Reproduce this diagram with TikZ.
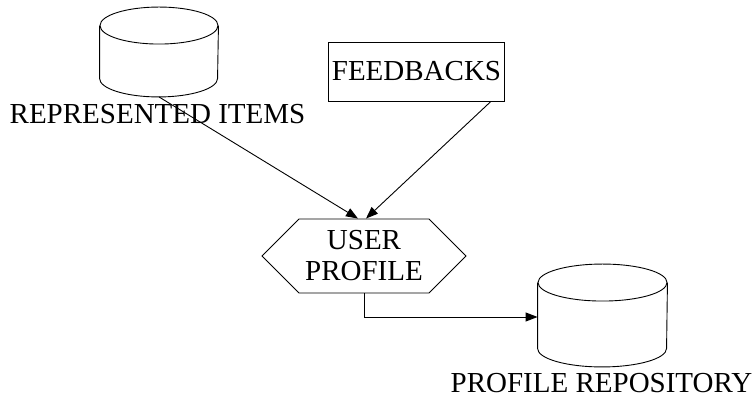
\documentclass[tikz,border=0pt]{standalone}
\usepackage{fontspec}
\setmainfont{Liberation Serif}
\usetikzlibrary{shapes.symbols,arrows.meta}
\tikzset{
  almacen/.style={inner sep=0pt, minimum width=#1},
  etiqueta/.style={anchor=base, inner sep=0pt},
  flecha/.style={-{Triangle[length=12pt,width=9pt]}},
}
\begin{document}
\begin{tikzpicture}[x=1pt,y=1pt,line width=0.9pt,font=\fontsize{29}{31}\selectfont]
    \useasboundingbox (0,0) rectangle (754,398);

    % Dibuja los almacenes (cuerpo del cilindro)
    \node[almacen=118pt, minimum height=52pt] (items) at (159,346) {};
    \node[almacen=129pt, minimum height=65pt] (repo) at (602.5,82.5) {};
    \foreach \n/\r in {items/59, repo/64.5}{
        \draw (\n.north) ellipse [x radius=\r, y radius=18.5];
        \draw (\n.north west) -- (\n.south west)
            arc[start angle=180, end angle=360, x radius=\r, y radius=18.5]
            -- (\n.north east);
    }
    \coordinate (itemsbase) at ([yshift=-18.5pt]items.south);
    \node[etiqueta] (itemslbl) at (157.5,274) {REPRESENTED ITEMS};
    \node[etiqueta] (repolbl) at (601.5,5) {PROFILE REPOSITORY};

    % Dibuja la caja y el perfil
    \node[draw, minimum width=107pt, minimum height=59pt] (fb) at (416.5,326.5) {FEEDBACKS};
    \node[draw, signal, signal to=east and west, signal pointer angle=90,
          minimum width=204pt, minimum height=74pt, align=center, inner sep=0pt]
          (perfil) at (364,142) {USER\\PROFILE};

    % Flechas
    \draw[flecha] (itemsbase) -- ([xshift=-6pt]perfil.north);
    \draw[flecha] ([xshift=-14pt]fb.south east) -- ([xshift=2pt]perfil.north);
    \draw[flecha] (perfil.south) |- ([yshift=-1.5pt]repo.west);
\end{tikzpicture}
\end{document}
